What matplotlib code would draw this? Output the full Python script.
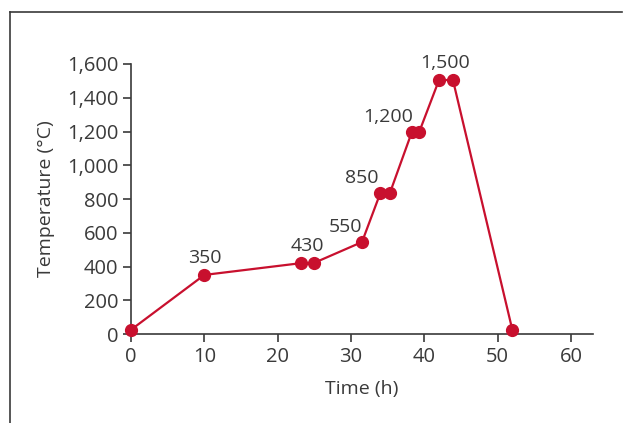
import matplotlib.pyplot as plt
from matplotlib.lines import Line2D

plt.rcParams['font.family'] = ['Open Sans', 'DejaVu Sans']

time_h = [0, 10, 23.2, 24.9, 31.5, 34, 35.3, 38.3, 39.3, 42, 43.9, 52]
temp_c = [25, 350, 420, 420, 545, 835, 835, 1197, 1197, 1505, 1505, 25]

label_text = ['350', '430', '550', '850', '1,200', '1,500']
label_x = [10, 24.0, 29.2, 31.5, 35.05, 42.8]
label_y = [450, 521, 634, 924, 1286, 1606]

red = '#c8102e'
grey = '#3a3a3a'

fig = plt.figure(figsize=(6.25, 4.23), dpi=100)
ax = fig.add_axes([0.2096, 0.2104, 0.7392, 0.6383])

ax.plot(time_h, temp_c, color=red, lw=1.6, marker='o', ms=8.5, zorder=3)
for t, x, y in zip(label_text, label_x, label_y):
    ax.text(x, y, t, ha='center', va='center', fontsize=14, color=grey)

ax.set_xlim(0, 63)
ax.set_ylim(0, 1600)
ax.set_xticks([0, 10, 20, 30, 40, 50, 60])
ax.set_yticks(range(0, 1601, 200))
ax.set_yticklabels([f'{v:,}' for v in range(0, 1601, 200)])
ax.tick_params(labelsize=14.5, colors=grey, length=6, width=1.2, pad=3)
for s in ['top', 'right']:
    ax.spines[s].set_visible(False)
for s in ['left', 'bottom']:
    ax.spines[s].set_color(grey)
    ax.spines[s].set_linewidth(1.2)
ax.spines['bottom'].set_bounds(0, 63)

ax.set_xlabel('Time (h)', fontsize=14, color=grey, labelpad=10)
ax.set_ylabel('Temperature (°C)', fontsize=14, color=grey, labelpad=9)
for ln in ax.lines:
    ln.set_clip_on(False)

# frame lines around the figure
fig.add_artist(Line2D([10/625, 622/625], [1-12/423, 1-12/423], color=grey, lw=1.2))
fig.add_artist(Line2D([10/625, 10/625], [1-12/423, 0], color=grey, lw=1.2))

fig.savefig('out.png', dpi=100)
